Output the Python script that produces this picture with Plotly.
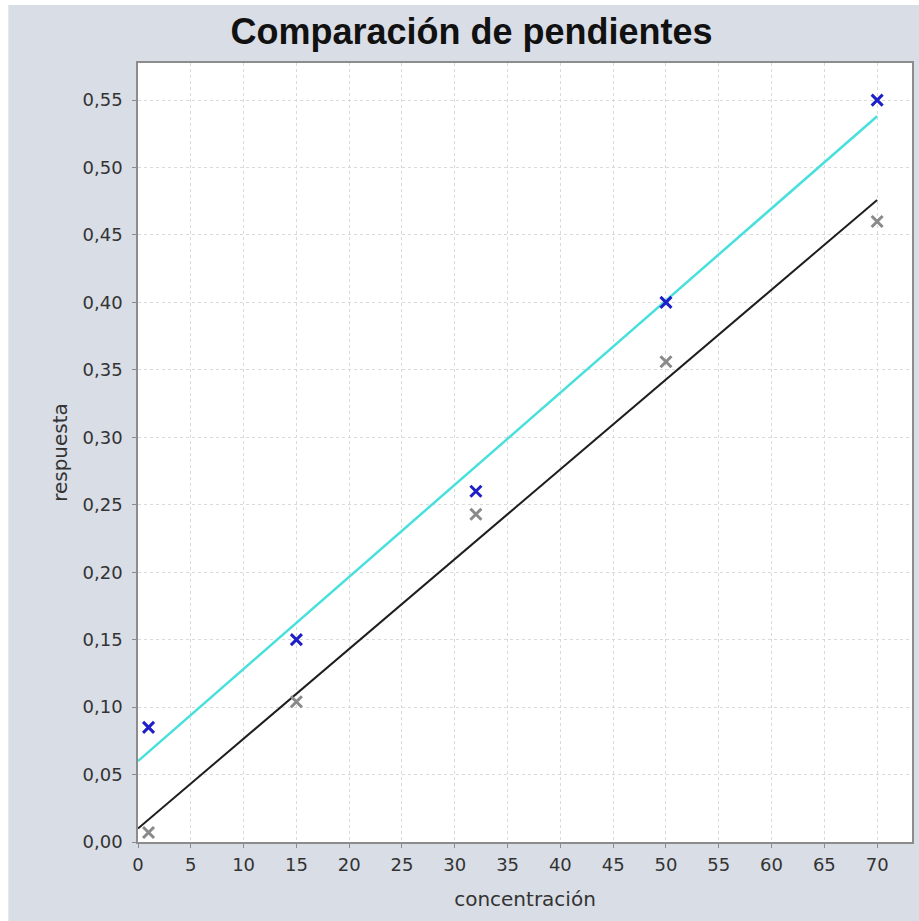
import plotly.graph_objects as go

# Data
conc = [1, 15, 32, 50, 70]
resp_blue = [0.085, 0.150, 0.260, 0.400, 0.550]
resp_gray = [0.007, 0.104, 0.243, 0.356, 0.460]

# Fitted lines (endpoints)
line_x = [0, 70]
fit_blue = [0.060, 0.538]
fit_gray = [0.010, 0.476]

x_ticks = list(range(0, 75, 5))
y_ticks = [round(i * 0.05, 2) for i in range(12)]

W, H = 919, 921
L, R, T, B = 138, 5, 63, 79
pw = W - L - R
ph = H - T - B

fig = go.Figure()
fig.add_trace(go.Scatter(x=line_x, y=fit_blue, mode="lines",
                         line=dict(color="#48e0dc", width=2.5), showlegend=False))
fig.add_trace(go.Scatter(x=line_x, y=fit_gray, mode="lines",
                         line=dict(color="#1e1e1e", width=2), showlegend=False))
fig.add_trace(go.Scatter(x=conc, y=resp_blue, mode="markers",
                         marker=dict(symbol="x-thin", size=11, line=dict(color="#1f1fc8", width=3)),
                         showlegend=False))
fig.add_trace(go.Scatter(x=conc, y=resp_gray, mode="markers",
                         marker=dict(symbol="x-thin", size=11, line=dict(color="#8a8a8a", width=3)),
                         showlegend=False))

axis_common = dict(
    showline=True, linecolor="#8c8c8c", linewidth=1.5, mirror=True,
    ticks="outside", ticklen=4, tickcolor="#8c8c8c",
    showgrid=True, gridcolor="#dadada", gridwidth=1, griddash="3px,3px",
    zeroline=False,
    tickfont=dict(family="DejaVu Sans", size=18, color="#333333"),
)

fig.update_xaxes(range=[0, 73.3], tickvals=x_ticks, ticktext=[str(v) for v in x_ticks],
                 ticklabelstandoff=2,
                 title=dict(text="concentración", font=dict(family="DejaVu Sans", size=20, color="#333333"),
                            standoff=18),
                 **axis_common)
fig.update_yaxes(range=[0, 0.5775], tickvals=y_ticks,
                 ticktext=[f"{v:.2f}".replace(".", ",") for v in y_ticks],
                 ticklabelstandoff=6,
                 title=dict(text="respuesta", font=dict(family="DejaVu Sans", size=20, color="#333333"),
                            standoff=10),
                 **axis_common)

# white strips at the left and top edge of the image
fig.add_shape(type="rect", xref="paper", yref="paper",
              x0=-L / pw - 0.01, x1=(8 - L) / pw, y0=-B / ph - 0.01, y1=(H - B + 1) / ph + 0.01,
              fillcolor="white", line=dict(width=0), layer="above")
fig.add_shape(type="rect", xref="paper", yref="paper",
              x0=-L / pw - 0.01, x1=1 + R / pw + 0.01, y0=(H - B - 5) / ph, y1=(H - B) / ph + 0.01,
              fillcolor="white", line=dict(width=0), layer="above")

fig.update_layout(
    width=W, height=H,
    margin=dict(l=L, r=R, t=T, b=B),
    paper_bgcolor="#d9dde6",
    plot_bgcolor="white",
    title=dict(text="<b>Comparación de pendientes</b>", x=0.513, xanchor="center",
               y=1 - 31 / H, yanchor="middle",
               font=dict(family="Liberation Sans", size=36, color="#111111")),
)

fig.write_html("out.html")
